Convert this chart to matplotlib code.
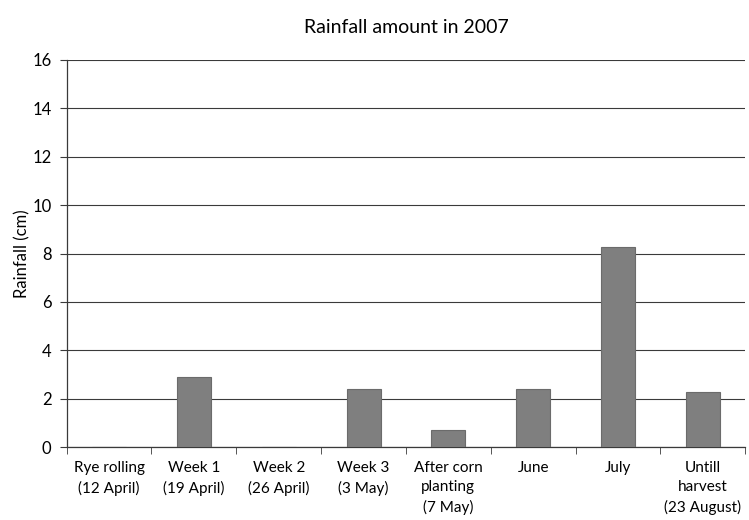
import matplotlib.pyplot as plt
import numpy as np

plt.rcParams['font.family'] = ['Lato', 'DejaVu Sans']

# data
periods = ["Rye rolling\n(12 April)", "Week 1\n(19 April)", "Week 2\n(26 April)",
           "Week 3\n(3 May)", "After corn\nplanting\n(7 May)", "June", "July",
           "Untill\nharvest\n(23 August)"]
rainfall = [0, 2.89, 0, 2.39, 0.69, 2.42, 8.27, 2.30]

fig = plt.figure(figsize=(7.49, 5.2), dpi=100)
ax = fig.add_axes([0.089, 0.140, 0.906, 0.745])

x = np.arange(len(periods))
ax.bar(x, rainfall, width=0.4, color="#7f7f7f", edgecolor="#6b6b6b", linewidth=0.8, zorder=3)

ax.set_xlim(-0.5, len(periods) - 0.5)
ax.set_ylim(0, 16)
ax.set_yticks(range(0, 17, 2))
ax.yaxis.grid(True, color="#3a3a3a", linewidth=0.8, zorder=0)
ax.set_axisbelow(True)

# category labels at centres, tick marks at the boundaries
ax.set_xticks(x)
ax.set_xticklabels(periods, fontsize=11, linespacing=1.45)
ax.set_xticks(np.arange(-0.5, len(periods)), minor=True)
ax.tick_params(axis="x", which="major", length=0, pad=10)
ax.tick_params(axis="x", which="minor", length=5, color="#3a3a3a")
ax.tick_params(axis="y", length=5, color="#3a3a3a", labelsize=12, pad=6)

for s in ["top", "right"]:
    ax.spines[s].set_visible(False)
for s in ["left", "bottom"]:
    ax.spines[s].set_color("#3a3a3a")
    ax.spines[s].set_linewidth(0.9)

ax.set_ylabel("Rainfall (cm)", fontsize=12, labelpad=1)
ax.set_title("Rainfall amount in 2007", fontsize=14, pad=19)

fig.savefig("out.png", dpi=100)
